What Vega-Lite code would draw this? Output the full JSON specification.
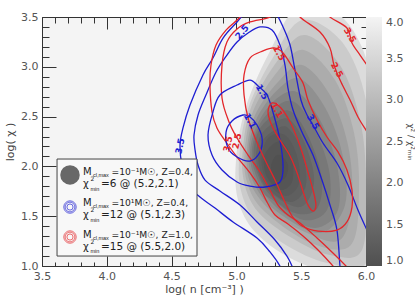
{
"$schema":"https://vega.github.io/schema/vega-lite/v6.json",
"width":324,"height":249,
"autosize":{"type":"none"},
"padding":{"left":42,"top":17,"right":49,"bottom":31},
"background":"#ffffff",
"config":{
 "view":{"fill":"#f4f4f4","stroke":"#333333","strokeWidth":1},
 "font":"DejaVu Sans",
 "axis":{"domain":false,"grid":false,"zindex":1,"tickColor":"#333333","tickWidth":1,"labelFont":"DejaVu Sans","labelFontSize":11,"labelColor":"#555555","titleFont":"DejaVu Sans","titleFontSize":11,"titleFontWeight":"normal","titleColor":"#444444","labelFlush":false}
},
"datasets":{
 "gray":[
  {"id":"g00","v":3.6,"i":0,"x":5.491,"y":3.621},{"id":"g00","v":3.6,"i":1,"x":5.838,"y":3.470},{"id":"g00","v":3.6,"i":2,"x":6.046,"y":2.867},{"id":"g00","v":3.6,"i":3,"x":6.069,"y":1.964},{"id":"g00","v":3.6,"i":4,"x":6.046,"y":0.940},{"id":"g00","v":3.6,"i":5,"x":5.722,"y":0.940},{"id":"g00","v":3.6,"i":6,"x":5.414,"y":1.080},{"id":"g00","v":3.6,"i":7,"x":5.144,"y":1.341},{"id":"g00","v":3.6,"i":8,"x":5.012,"y":1.663},{"id":"g00","v":3.6,"i":9,"x":4.997,"y":2.064},{"id":"g00","v":3.6,"i":10,"x":5.066,"y":2.566},{"id":"g00","v":3.6,"i":11,"x":5.244,"y":3.118},
  {"id":"g01","v":3.3,"i":0,"x":5.510,"y":3.470},{"id":"g01","v":3.3,"i":1,"x":5.819,"y":3.244},{"id":"g01","v":3.3,"i":2,"x":6.000,"y":2.667},{"id":"g01","v":3.3,"i":3,"x":6.035,"y":1.914},{"id":"g01","v":3.3,"i":4,"x":6.008,"y":1.050},{"id":"g01","v":3.3,"i":5,"x":5.722,"y":1.025},{"id":"g01","v":3.3,"i":6,"x":5.421,"y":1.181},{"id":"g01","v":3.3,"i":7,"x":5.155,"y":1.442},{"id":"g01","v":3.3,"i":8,"x":5.036,"y":1.753},{"id":"g01","v":3.3,"i":9,"x":5.024,"y":2.124},{"id":"g01","v":3.3,"i":10,"x":5.093,"y":2.591},{"id":"g01","v":3.3,"i":11,"x":5.282,"y":3.093},
  {"id":"g02","v":3.0,"i":0,"x":5.529,"y":3.319},{"id":"g02","v":3.0,"i":1,"x":5.799,"y":3.018},{"id":"g02","v":3.0,"i":2,"x":5.954,"y":2.466},{"id":"g02","v":3.0,"i":3,"x":6.000,"y":1.863},{"id":"g02","v":3.0,"i":4,"x":5.969,"y":1.161},{"id":"g02","v":3.0,"i":5,"x":5.722,"y":1.110},{"id":"g02","v":3.0,"i":6,"x":5.429,"y":1.281},{"id":"g02","v":3.0,"i":7,"x":5.167,"y":1.542},{"id":"g02","v":3.0,"i":8,"x":5.059,"y":1.843},{"id":"g02","v":3.0,"i":9,"x":5.051,"y":2.185},{"id":"g02","v":3.0,"i":10,"x":5.120,"y":2.616},{"id":"g02","v":3.0,"i":11,"x":5.321,"y":3.068},
  {"id":"g03","v":2.75,"i":0,"x":5.518,"y":3.169},{"id":"g03","v":2.75,"i":1,"x":5.761,"y":2.867},{"id":"g03","v":2.75,"i":2,"x":5.907,"y":2.340},{"id":"g03","v":2.75,"i":3,"x":5.946,"y":1.763},{"id":"g03","v":2.75,"i":4,"x":5.884,"y":1.211},{"id":"g03","v":2.75,"i":5,"x":5.576,"y":1.231},{"id":"g03","v":2.75,"i":6,"x":5.213,"y":1.552},{"id":"g03","v":2.75,"i":7,"x":5.082,"y":1.843},{"id":"g03","v":2.75,"i":8,"x":5.066,"y":2.175},{"id":"g03","v":2.75,"i":9,"x":5.132,"y":2.566},{"id":"g03","v":2.75,"i":10,"x":5.321,"y":2.958},
  {"id":"g04","v":2.5,"i":0,"x":5.506,"y":3.018},{"id":"g04","v":2.5,"i":1,"x":5.722,"y":2.717},{"id":"g04","v":2.5,"i":2,"x":5.861,"y":2.215},{"id":"g04","v":2.5,"i":3,"x":5.892,"y":1.663},{"id":"g04","v":2.5,"i":4,"x":5.799,"y":1.261},{"id":"g04","v":2.5,"i":5,"x":5.529,"y":1.341},{"id":"g04","v":2.5,"i":6,"x":5.259,"y":1.562},{"id":"g04","v":2.5,"i":7,"x":5.105,"y":1.843},{"id":"g04","v":2.5,"i":8,"x":5.082,"y":2.165},{"id":"g04","v":2.5,"i":9,"x":5.144,"y":2.516},{"id":"g04","v":2.5,"i":10,"x":5.321,"y":2.847},
  {"id":"g05","v":2.25,"i":0,"x":5.487,"y":2.883},{"id":"g05","v":2.25,"i":1,"x":5.684,"y":2.591},{"id":"g05","v":2.25,"i":2,"x":5.819,"y":2.114},{"id":"g05","v":2.25,"i":3,"x":5.838,"y":1.612},{"id":"g05","v":2.25,"i":4,"x":5.645,"y":1.331},{"id":"g05","v":2.25,"i":5,"x":5.306,"y":1.552},{"id":"g05","v":2.25,"i":6,"x":5.136,"y":1.828},{"id":"g05","v":2.25,"i":7,"x":5.093,"y":2.140},{"id":"g05","v":2.25,"i":8,"x":5.151,"y":2.466},{"id":"g05","v":2.25,"i":9,"x":5.309,"y":2.757},
  {"id":"g06","v":2.0,"i":0,"x":5.468,"y":2.747},{"id":"g06","v":2.0,"i":1,"x":5.645,"y":2.466},{"id":"g06","v":2.0,"i":2,"x":5.776,"y":2.014},{"id":"g06","v":2.0,"i":3,"x":5.784,"y":1.562},{"id":"g06","v":2.0,"i":4,"x":5.606,"y":1.382},{"id":"g06","v":2.0,"i":5,"x":5.352,"y":1.542},{"id":"g06","v":2.0,"i":6,"x":5.167,"y":1.813},{"id":"g06","v":2.0,"i":7,"x":5.105,"y":2.114},{"id":"g06","v":2.0,"i":8,"x":5.159,"y":2.416},{"id":"g06","v":2.0,"i":9,"x":5.298,"y":2.667},
  {"id":"g07","v":1.8,"i":0,"x":5.448,"y":2.647},{"id":"g07","v":1.8,"i":1,"x":5.606,"y":2.365},{"id":"g07","v":1.8,"i":2,"x":5.718,"y":1.939},{"id":"g07","v":1.8,"i":3,"x":5.699,"y":1.562},{"id":"g07","v":1.8,"i":4,"x":5.518,"y":1.462},{"id":"g07","v":1.8,"i":5,"x":5.290,"y":1.653},{"id":"g07","v":1.8,"i":6,"x":5.198,"y":1.763},{"id":"g07","v":1.8,"i":7,"x":5.120,"y":2.084},{"id":"g07","v":1.8,"i":8,"x":5.163,"y":2.381},{"id":"g07","v":1.8,"i":9,"x":5.294,"y":2.591},
  {"id":"g08","v":1.6,"i":0,"x":5.429,"y":2.546},{"id":"g08","v":1.6,"i":1,"x":5.568,"y":2.265},{"id":"g08","v":1.6,"i":2,"x":5.660,"y":1.863},{"id":"g08","v":1.6,"i":3,"x":5.614,"y":1.562},{"id":"g08","v":1.6,"i":4,"x":5.429,"y":1.542},{"id":"g08","v":1.6,"i":5,"x":5.228,"y":1.763},{"id":"g08","v":1.6,"i":6,"x":5.136,"y":2.064},{"id":"g08","v":1.6,"i":7,"x":5.167,"y":2.345},{"id":"g08","v":1.6,"i":8,"x":5.290,"y":2.516},
  {"id":"g09","v":1.45,"i":0,"x":5.414,"y":2.466},{"id":"g09","v":1.45,"i":1,"x":5.537,"y":2.205},{"id":"g09","v":1.45,"i":2,"x":5.599,"y":1.838},{"id":"g09","v":1.45,"i":3,"x":5.491,"y":1.592},{"id":"g09","v":1.45,"i":4,"x":5.244,"y":1.763},{"id":"g09","v":1.45,"i":5,"x":5.155,"y":2.039},{"id":"g09","v":1.45,"i":6,"x":5.182,"y":2.295},{"id":"g09","v":1.45,"i":7,"x":5.294,"y":2.441},
  {"id":"g10","v":1.3,"i":0,"x":5.398,"y":2.386},{"id":"g10","v":1.3,"i":1,"x":5.506,"y":2.145},{"id":"g10","v":1.3,"i":2,"x":5.537,"y":1.813},{"id":"g10","v":1.3,"i":3,"x":5.429,"y":1.643},{"id":"g10","v":1.3,"i":4,"x":5.259,"y":1.763},{"id":"g10","v":1.3,"i":5,"x":5.174,"y":2.014},{"id":"g10","v":1.3,"i":6,"x":5.198,"y":2.245},{"id":"g10","v":1.3,"i":7,"x":5.298,"y":2.365},
  {"id":"g11","v":1.2,"i":0,"x":5.375,"y":2.315},{"id":"g11","v":1.2,"i":1,"x":5.468,"y":2.104},{"id":"g11","v":1.2,"i":2,"x":5.483,"y":1.828},{"id":"g11","v":1.2,"i":3,"x":5.383,"y":1.703},{"id":"g11","v":1.2,"i":4,"x":5.248,"y":1.828},{"id":"g11","v":1.2,"i":5,"x":5.194,"y":2.049},{"id":"g11","v":1.2,"i":6,"x":5.244,"y":2.285},
  {"id":"g12","v":1.1,"i":0,"x":5.352,"y":2.245},{"id":"g12","v":1.1,"i":1,"x":5.429,"y":2.064},{"id":"g12","v":1.1,"i":2,"x":5.429,"y":1.843},{"id":"g12","v":1.1,"i":3,"x":5.336,"y":1.763},{"id":"g12","v":1.1,"i":4,"x":5.236,"y":1.894},{"id":"g12","v":1.1,"i":5,"x":5.213,"y":2.084},{"id":"g12","v":1.1,"i":6,"x":5.267,"y":2.205},
  {"id":"g13","v":1.02,"i":0,"x":5.336,"y":2.114},{"id":"g13","v":1.02,"i":1,"x":5.398,"y":2.014},{"id":"g13","v":1.02,"i":2,"x":5.375,"y":1.884},{"id":"g13","v":1.02,"i":3,"x":5.298,"y":1.863},{"id":"g13","v":1.02,"i":4,"x":5.267,"y":1.984},{"id":"g13","v":1.02,"i":5,"x":5.290,"y":2.084}
 ],
 "open":[
  {"id":"b35","m":"b","i":0,"x":5.360,"y":0.910},{"id":"b35","m":"b","i":1,"x":5.336,"y":1.000},{"id":"b35","m":"b","i":2,"x":5.259,"y":1.141},{"id":"b35","m":"b","i":3,"x":5.159,"y":1.281},{"id":"b35","m":"b","i":4,"x":4.974,"y":1.442},{"id":"b35","m":"b","i":5,"x":4.835,"y":1.582},{"id":"b35","m":"b","i":6,"x":4.719,"y":1.693},{"id":"b35","m":"b","i":7,"x":4.627,"y":1.813},{"id":"b35","m":"b","i":8,"x":4.580,"y":2.014},{"id":"b35","m":"b","i":9,"x":4.565,"y":2.215},{"id":"b35","m":"b","i":10,"x":4.588,"y":2.386},{"id":"b35","m":"b","i":11,"x":4.642,"y":2.616},{"id":"b35","m":"b","i":12,"x":4.742,"y":2.918},{"id":"b35","m":"b","i":13,"x":4.819,"y":3.088},{"id":"b35","m":"b","i":14,"x":4.897,"y":3.289},{"id":"b35","m":"b","i":15,"x":5.005,"y":3.450},{"id":"b35","m":"b","i":16,"x":5.105,"y":3.590},{"id":"b35","m":"b","i":17,"x":5.221,"y":3.620},{"id":"b35","m":"b","i":18,"x":5.298,"y":3.550},{"id":"b35","m":"b","i":19,"x":5.360,"y":3.400},{"id":"b35","m":"b","i":20,"x":5.414,"y":3.219},{"id":"b35","m":"b","i":21,"x":5.452,"y":2.968},{"id":"b35","m":"b","i":22,"x":5.498,"y":2.667},{"id":"b35","m":"b","i":23,"x":5.545,"y":2.516},{"id":"b35","m":"b","i":24,"x":5.591,"y":2.416},{"id":"b35","m":"b","i":25,"x":5.668,"y":2.235},{"id":"b35","m":"b","i":26,"x":5.776,"y":2.034},{"id":"b35","m":"b","i":27,"x":5.861,"y":1.813},{"id":"b35","m":"b","i":28,"x":5.938,"y":1.562},{"id":"b35","m":"b","i":29,"x":6.000,"y":1.382},{"id":"b35","m":"b","i":30,"x":6.046,"y":1.261},
  {"id":"b25","m":"b","i":0,"x":5.460,"y":0.910},{"id":"b25","m":"b","i":1,"x":5.429,"y":1.000},{"id":"b25","m":"b","i":2,"x":5.390,"y":1.100},{"id":"b25","m":"b","i":3,"x":5.298,"y":1.261},{"id":"b25","m":"b","i":4,"x":5.159,"y":1.442},{"id":"b25","m":"b","i":5,"x":5.028,"y":1.612},{"id":"b25","m":"b","i":6,"x":4.873,"y":1.753},{"id":"b25","m":"b","i":7,"x":4.758,"y":1.863},{"id":"b25","m":"b","i":8,"x":4.704,"y":2.014},{"id":"b25","m":"b","i":9,"x":4.681,"y":2.165},{"id":"b25","m":"b","i":10,"x":4.673,"y":2.315},{"id":"b25","m":"b","i":11,"x":4.704,"y":2.516},{"id":"b25","m":"b","i":12,"x":4.765,"y":2.717},{"id":"b25","m":"b","i":13,"x":4.843,"y":2.948},{"id":"b25","m":"b","i":14,"x":4.927,"y":3.118},{"id":"b25","m":"b","i":15,"x":5.005,"y":3.249},{"id":"b25","m":"b","i":16,"x":5.090,"y":3.339},{"id":"b25","m":"b","i":17,"x":5.182,"y":3.400},{"id":"b25","m":"b","i":18,"x":5.275,"y":3.369},{"id":"b25","m":"b","i":19,"x":5.336,"y":3.219},{"id":"b25","m":"b","i":20,"x":5.375,"y":3.018},{"id":"b25","m":"b","i":21,"x":5.398,"y":2.787},{"id":"b25","m":"b","i":22,"x":5.437,"y":2.566},{"id":"b25","m":"b","i":23,"x":5.506,"y":2.345},{"id":"b25","m":"b","i":24,"x":5.591,"y":2.114},{"id":"b25","m":"b","i":25,"x":5.660,"y":1.863},{"id":"b25","m":"b","i":26,"x":5.722,"y":1.612},{"id":"b25","m":"b","i":27,"x":5.776,"y":1.361},{"id":"b25","m":"b","i":28,"x":5.799,"y":1.000},{"id":"b25","m":"b","i":29,"x":5.807,"y":0.910},
  {"id":"r35","m":"r","i":0,"x":5.051,"y":3.590},{"id":"r35","m":"r","i":1,"x":5.028,"y":3.500},{"id":"r35","m":"r","i":2,"x":4.920,"y":3.369},{"id":"r35","m":"r","i":3,"x":4.843,"y":3.219},{"id":"r35","m":"r","i":4,"x":4.804,"y":3.018},{"id":"r35","m":"r","i":5,"x":4.796,"y":2.817},{"id":"r35","m":"r","i":6,"x":4.812,"y":2.546},{"id":"r35","m":"r","i":7,"x":4.850,"y":2.386},{"id":"r35","m":"r","i":8,"x":4.920,"y":2.245},{"id":"r35","m":"r","i":9,"x":5.005,"y":2.094},{"id":"r35","m":"r","i":10,"x":5.105,"y":1.934},{"id":"r35","m":"r","i":11,"x":5.182,"y":1.783},{"id":"r35","m":"r","i":12,"x":5.236,"y":1.643},{"id":"r35","m":"r","i":13,"x":5.298,"y":1.512},{"id":"r35","m":"r","i":14,"x":5.398,"y":1.422},{"id":"r35","m":"r","i":15,"x":5.514,"y":1.301},{"id":"r35","m":"r","i":16,"x":5.630,"y":1.161},{"id":"r35","m":"r","i":17,"x":5.745,"y":1.000},{"id":"r35","m":"r","i":18,"x":5.799,"y":0.910},
  {"id":"r35b","m":"r","i":0,"x":5.684,"y":3.590},{"id":"r35b","m":"r","i":1,"x":5.722,"y":3.500},{"id":"r35b","m":"r","i":2,"x":5.853,"y":3.390},{"id":"r35b","m":"r","i":3,"x":5.892,"y":3.239},{"id":"r35b","m":"r","i":4,"x":5.954,"y":3.118},{"id":"r35b","m":"r","i":5,"x":6.008,"y":3.018},{"id":"r35b","m":"r","i":6,"x":6.054,"y":2.938},
  {"id":"r25","m":"r","i":0,"x":5.282,"y":3.590},{"id":"r25","m":"r","i":1,"x":5.259,"y":3.500},{"id":"r25","m":"r","i":2,"x":5.105,"y":3.450},{"id":"r25","m":"r","i":3,"x":5.005,"y":3.380},{"id":"r25","m":"r","i":4,"x":4.927,"y":3.249},{"id":"r25","m":"r","i":5,"x":4.889,"y":3.018},{"id":"r25","m":"r","i":6,"x":4.889,"y":2.687},{"id":"r25","m":"r","i":7,"x":4.943,"y":2.446},{"id":"r25","m":"r","i":8,"x":5.005,"y":2.285},{"id":"r25","m":"r","i":9,"x":5.090,"y":2.114},{"id":"r25","m":"r","i":10,"x":5.182,"y":1.944},{"id":"r25","m":"r","i":11,"x":5.259,"y":1.763},{"id":"r25","m":"r","i":12,"x":5.321,"y":1.612},{"id":"r25","m":"r","i":13,"x":5.398,"y":1.512},{"id":"r25","m":"r","i":14,"x":5.491,"y":1.432},{"id":"r25","m":"r","i":15,"x":5.622,"y":1.281},{"id":"r25","m":"r","i":16,"x":5.745,"y":1.131},{"id":"r25","m":"r","i":17,"x":5.853,"y":0.990},{"id":"r25","m":"r","i":18,"x":5.900,"y":0.920},
  {"id":"r25b","m":"r","i":0,"x":5.468,"y":3.590},{"id":"r25b","m":"r","i":1,"x":5.491,"y":3.500},{"id":"r25b","m":"r","i":2,"x":5.645,"y":3.349},{"id":"r25b","m":"r","i":3,"x":5.722,"y":3.189},{"id":"r25b","m":"r","i":4,"x":5.753,"y":3.018},{"id":"r25b","m":"r","i":5,"x":5.807,"y":2.847},{"id":"r25b","m":"r","i":6,"x":5.877,"y":2.667},{"id":"r25b","m":"r","i":7,"x":5.938,"y":2.496},{"id":"r25b","m":"r","i":8,"x":6.000,"y":2.365},{"id":"r25b","m":"r","i":9,"x":6.046,"y":2.285}
 ],
 "closed":[
  {"id":"b15","m":"b","i":0,"x":4.781,"y":2.315},{"id":"b15","m":"b","i":1,"x":4.819,"y":2.546},{"id":"b15","m":"b","i":2,"x":4.873,"y":2.717},{"id":"b15","m":"b","i":3,"x":5.005,"y":2.817},{"id":"b15","m":"b","i":4,"x":5.105,"y":2.867},{"id":"b15","m":"b","i":5,"x":5.167,"y":2.807},{"id":"b15","m":"b","i":6,"x":5.236,"y":2.717},{"id":"b15","m":"b","i":7,"x":5.282,"y":2.546},{"id":"b15","m":"b","i":8,"x":5.336,"y":2.265},{"id":"b15","m":"b","i":9,"x":5.360,"y":1.994},{"id":"b15","m":"b","i":10,"x":5.336,"y":1.843},{"id":"b15","m":"b","i":11,"x":5.221,"y":1.793},{"id":"b15","m":"b","i":12,"x":5.105,"y":1.803},{"id":"b15","m":"b","i":13,"x":5.005,"y":1.843},{"id":"b15","m":"b","i":14,"x":4.889,"y":1.964},{"id":"b15","m":"b","i":15,"x":4.812,"y":2.114},
  {"id":"b11","m":"b","i":0,"x":5.051,"y":2.516},{"id":"b11","m":"b","i":1,"x":4.966,"y":2.456},{"id":"b11","m":"b","i":2,"x":4.920,"y":2.345},{"id":"b11","m":"b","i":3,"x":4.935,"y":2.185},{"id":"b11","m":"b","i":4,"x":5.005,"y":2.094},{"id":"b11","m":"b","i":5,"x":5.105,"y":2.054},{"id":"b11","m":"b","i":6,"x":5.182,"y":2.145},{"id":"b11","m":"b","i":7,"x":5.198,"y":2.285},{"id":"b11","m":"b","i":8,"x":5.159,"y":2.416},{"id":"b11","m":"b","i":9,"x":5.105,"y":2.496},
  {"id":"r15","m":"r","i":0,"x":5.105,"y":3.088},{"id":"r15","m":"r","i":1,"x":5.205,"y":3.159},{"id":"r15","m":"r","i":2,"x":5.290,"y":3.189},{"id":"r15","m":"r","i":3,"x":5.360,"y":3.139},{"id":"r15","m":"r","i":4,"x":5.437,"y":2.988},{"id":"r15","m":"r","i":5,"x":5.514,"y":2.837},{"id":"r15","m":"r","i":6,"x":5.552,"y":2.667},{"id":"r15","m":"r","i":7,"x":5.622,"y":2.466},{"id":"r15","m":"r","i":8,"x":5.699,"y":2.295},{"id":"r15","m":"r","i":9,"x":5.784,"y":2.145},{"id":"r15","m":"r","i":10,"x":5.853,"y":1.964},{"id":"r15","m":"r","i":11,"x":5.892,"y":1.763},{"id":"r15","m":"r","i":12,"x":5.892,"y":1.592},{"id":"r15","m":"r","i":13,"x":5.853,"y":1.442},{"id":"r15","m":"r","i":14,"x":5.776,"y":1.361},{"id":"r15","m":"r","i":15,"x":5.630,"y":1.351},{"id":"r15","m":"r","i":16,"x":5.506,"y":1.402},{"id":"r15","m":"r","i":17,"x":5.429,"y":1.502},{"id":"r15","m":"r","i":18,"x":5.367,"y":1.663},{"id":"r15","m":"r","i":19,"x":5.298,"y":1.863},{"id":"r15","m":"r","i":20,"x":5.221,"y":2.064},{"id":"r15","m":"r","i":21,"x":5.151,"y":2.265},{"id":"r15","m":"r","i":22,"x":5.090,"y":2.486},{"id":"r15","m":"r","i":23,"x":5.059,"y":2.717},{"id":"r15","m":"r","i":24,"x":5.059,"y":2.918},
  {"id":"r11","m":"r","i":0,"x":5.275,"y":2.637},{"id":"r11","m":"r","i":1,"x":5.344,"y":2.586},{"id":"r11","m":"r","i":2,"x":5.414,"y":2.446},{"id":"r11","m":"r","i":3,"x":5.468,"y":2.285},{"id":"r11","m":"r","i":4,"x":5.514,"y":2.114},{"id":"r11","m":"r","i":5,"x":5.552,"y":1.944},{"id":"r11","m":"r","i":6,"x":5.591,"y":1.763},{"id":"r11","m":"r","i":7,"x":5.614,"y":1.612},{"id":"r11","m":"r","i":8,"x":5.591,"y":1.552},{"id":"r11","m":"r","i":9,"x":5.545,"y":1.633},{"id":"r11","m":"r","i":10,"x":5.506,"y":1.783},{"id":"r11","m":"r","i":11,"x":5.460,"y":1.964},{"id":"r11","m":"r","i":12,"x":5.406,"y":2.124},{"id":"r11","m":"r","i":13,"x":5.336,"y":2.265},{"id":"r11","m":"r","i":14,"x":5.275,"y":2.406},{"id":"r11","m":"r","i":15,"x":5.244,"y":2.546}
 ],
 "labA":[
  {"t":"1.5","m":"b","x":5.198,"y":2.747},{"t":"1.1","m":"b","x":5.105,"y":2.456},{"t":"3.5","m":"b","x":5.591,"y":2.446},
  {"t":"1.5","m":"r","x":5.329,"y":3.139},{"t":"1.1","m":"r","x":5.313,"y":2.566},{"t":"2.5","m":"r","x":5.776,"y":2.968},{"t":"3.5","m":"r","x":5.877,"y":3.319}
 ],
 "labB":[{"t":"2.5","m":"b","x":5.043,"y":3.349}],
 "labC":[{"t":"3.5","m":"b","x":4.565,"y":2.205},{"t":"3.5","m":"r","x":4.935,"y":2.225},{"t":"2.5","m":"r","x":5.005,"y":2.255}],
 "box":[{"x":3.616,"x2":4.696,"y":1.100,"y2":2.074}],
 "disc":[{"x":3.716,"y":1.914}],
 "rings":[
  {"m":"b","ring":1,"x":3.716,"y":1.592},{"m":"b","ring":2,"x":3.716,"y":1.592},{"m":"b","ring":3,"x":3.716,"y":1.592},
  {"m":"r","ring":1,"x":3.716,"y":1.291},{"m":"r","ring":2,"x":3.716,"y":1.291},{"m":"r","ring":3,"x":3.716,"y":1.291}
 ],
 "leg":[
  {"lx":3.816,"y1":1.944,"y2":1.823,"t1":"=10⁻¹M☉, Z=0.4,","t2":"=6 @ (5.2,2.1)"},
  {"lx":3.816,"y1":1.633,"y2":1.512,"t1":"=10¹M☉, Z=0.4,","t2":"=12 @ (5.1,2.3)"},
  {"lx":3.816,"y1":1.311,"y2":1.191,"t1":"=10⁻¹M☉, Z=1.0,","t2":"=15 @ (5.5,2.0)"}
 ]
},
"resolve":{"axis":{"x":"independent","y":"independent"}},
"layer":[
 {"data":{"name":"gray"},
  "mark":{"type":"line","filled":true,"interpolate":"cardinal-closed","clip":true,"strokeWidth":0},
  "encoding":{
   "x":{"field":"x","type":"quantitative","scale":{"domain":[3.5,6],"nice":false,"zero":false},
        "axis":{"orient":"bottom","values":[3.5,4,4.5,5,5.5,6],"format":".1f","tickSize":-10,"labelPadding":14,"title":"log( n [cm⁻³] )","titlePadding":2}},
   "y":{"field":"y","type":"quantitative","scale":{"domain":[1,3.5],"nice":false,"zero":false},
        "axis":{"orient":"left","values":[1,1.5,2,2.5,3,3.5],"format":".1f","tickSize":-14,"labelPadding":18,"title":"log( χ )","titlePadding":5}},
   "fill":{"field":"v","type":"quantitative","scale":{"domain":[1,4],"range":["#505050","#f4f4f4"]},
        "legend":{"orient":"none","legendX":324,"legendY":0,"direction":"vertical","gradientLength":249,"gradientThickness":16,"gradientStrokeWidth":0,"values":[1,1.5,2,2.5,3,3.5,4],"format":".1f","labelFont":"DejaVu Sans","labelFontSize":11,"labelColor":"#555555","labelOffset":4,"labelBaseline":"middle","title":"χ² / χ²ₘᵢₙ","titleOrient":"right","titleAngle":270,"titleAnchor":"middle","titleFont":"DejaVu Sans","titleFontSize":9,"titleFontWeight":"normal","titleColor":"#444444","titlePadding":3,"padding":0}},
   "detail":{"field":"id"},
   "order":{"field":"i"}
  }},
 {"data":{"name":"open"},
  "mark":{"type":"line","interpolate":"cardinal","clip":true,"strokeWidth":1.3},
  "encoding":{
   "x":{"field":"x","type":"quantitative","scale":{"domain":[3.5,6],"nice":false,"zero":false},
        "axis":{"orient":"bottom","values":[3.6,3.7,3.8,3.9,4.1,4.2,4.3,4.4,4.6,4.7,4.8,4.9,5.1,5.2,5.3,5.4,5.6,5.7,5.8,5.9],"tickSize":-4,"labels":false,"title":null}},
   "y":{"field":"y","type":"quantitative","scale":{"domain":[1,3.5],"nice":false,"zero":false},
        "axis":{"orient":"left","values":[1.1,1.2,1.3,1.4,1.6,1.7,1.8,1.9,2.1,2.2,2.3,2.4,2.6,2.7,2.8,2.9,3.1,3.2,3.3,3.4],"tickSize":-7,"labels":false,"title":null}},
   "color":{"field":"m","type":"nominal","scale":{"domain":["b","r"],"range":["#1e1ed2","#e3262a"]},"legend":null},
   "detail":{"field":"id"},
   "order":{"field":"i"}
  }},
 {"data":{"name":"closed"},
  "mark":{"type":"line","interpolate":"cardinal-closed","clip":true,"strokeWidth":1.3},
  "encoding":{
   "x":{"field":"x","type":"quantitative","scale":{"domain":[3.5,6],"nice":false,"zero":false},
        "axis":{"orient":"top","values":[3.5,4,4.5,5,5.5,6],"tickSize":-12,"labels":false,"title":null}},
   "y":{"field":"y","type":"quantitative","scale":{"domain":[1,3.5],"nice":false,"zero":false},
        "axis":{"orient":"right","values":[1,1.41667,1.83333,2.25,2.66667,3.08333,3.5],"tickSize":-9,"labels":false,"title":null}},
   "color":{"field":"m","type":"nominal","scale":{"domain":["b","r"],"range":["#1e1ed2","#e3262a"]},"legend":null},
   "detail":{"field":"id"},
   "order":{"field":"i"}
  }},
 {"data":{"name":"labA"},
  "mark":{"type":"text","angle":60,"fontSize":9,"fontWeight":"bold","font":"DejaVu Sans"},
  "encoding":{
   "x":{"field":"x","type":"quantitative","scale":{"domain":[3.5,6],"nice":false,"zero":false},
        "axis":{"orient":"top","values":[3.6,3.7,3.8,3.9,4.1,4.2,4.3,4.4,4.6,4.7,4.8,4.9,5.1,5.2,5.3,5.4,5.6,5.7,5.8,5.9],"tickSize":-6,"labels":false,"title":null}},
   "y":{"field":"y","type":"quantitative","scale":{"domain":[1,3.5],"nice":false,"zero":false},
        "axis":{"orient":"right","values":[1.10417,1.20833,1.3125,1.52083,1.625,1.72917,1.9375,2.04167,2.14583,2.35417,2.45833,2.5625,2.77083,2.875,2.97917,3.1875,3.29167,3.39583],"tickSize":-5,"labels":false,"title":null}},
   "text":{"field":"t"},
   "color":{"field":"m","type":"nominal","scale":{"domain":["b","r"],"range":["#1e1ed2","#e3262a"]},"legend":null}
  }},
 {"data":{"name":"labB"},
  "mark":{"type":"text","angle":-50,"fontSize":9,"fontWeight":"bold","font":"DejaVu Sans"},
  "encoding":{
   "x":{"field":"x","type":"quantitative","scale":{"domain":[3.5,6],"nice":false,"zero":false},"axis":null},
   "y":{"field":"y","type":"quantitative","scale":{"domain":[1,3.5],"nice":false,"zero":false},"axis":null},
   "text":{"field":"t"},
   "color":{"field":"m","type":"nominal","scale":{"domain":["b","r"],"range":["#1e1ed2","#e3262a"]},"legend":null}
  }},
 {"data":{"name":"labC"},
  "mark":{"type":"text","angle":-78,"fontSize":9,"fontWeight":"bold","font":"DejaVu Sans"},
  "encoding":{
   "x":{"field":"x","type":"quantitative","scale":{"domain":[3.5,6],"nice":false,"zero":false},"axis":null},
   "y":{"field":"y","type":"quantitative","scale":{"domain":[1,3.5],"nice":false,"zero":false},"axis":null},
   "text":{"field":"t"},
   "color":{"field":"m","type":"nominal","scale":{"domain":["b","r"],"range":["#1e1ed2","#e3262a"]},"legend":null}
  }},
 {"data":{"name":"box"},
  "mark":{"type":"rect","fill":"#f8f8f8","stroke":"#444444","strokeWidth":1},
  "encoding":{
   "x":{"field":"x","type":"quantitative","scale":{"domain":[3.5,6],"nice":false,"zero":false},"axis":null},
   "x2":{"field":"x2"},
   "y":{"field":"y","type":"quantitative","scale":{"domain":[1,3.5],"nice":false,"zero":false},"axis":null},
   "y2":{"field":"y2"}
  }},
 {"data":{"name":"disc"},
  "mark":{"type":"point","shape":"circle","filled":true,"size":380,"color":"#686868","opacity":1},
  "encoding":{
   "x":{"field":"x","type":"quantitative","scale":{"domain":[3.5,6],"nice":false,"zero":false},"axis":null},
   "y":{"field":"y","type":"quantitative","scale":{"domain":[1,3.5],"nice":false,"zero":false},"axis":null}
  }},
 {"data":{"name":"rings"},
  "mark":{"type":"point","shape":"circle","filled":false,"strokeWidth":0.8,"opacity":0.85},
  "encoding":{
   "x":{"field":"x","type":"quantitative","scale":{"domain":[3.5,6],"nice":false,"zero":false},"axis":null},
   "y":{"field":"y","type":"quantitative","scale":{"domain":[1,3.5],"nice":false,"zero":false},"axis":null},
   "size":{"field":"ring","type":"ordinal","scale":{"domain":[1,2,3],"range":[38,154,380]},"legend":null},
   "color":{"field":"m","type":"nominal","scale":{"domain":["b","r"],"range":["#1e1ed2","#e3262a"]},"legend":null}
  }},
 {"data":{"name":"leg"},
  "mark":{"type":"text","align":"left","baseline":"middle","fontSize":10,"font":"DejaVu Sans","color":"#222222"},
  "encoding":{
   "x":{"field":"lx","type":"quantitative","scale":{"domain":[3.5,6],"nice":false,"zero":false},"axis":null},
   "y":{"field":"y1","type":"quantitative","scale":{"domain":[1,3.5],"nice":false,"zero":false},"axis":null},
   "text":{"value":"M"}
  }},
 {"data":{"name":"leg"},
  "mark":{"type":"text","align":"left","baseline":"middle","fontSize":5.5,"font":"Liberation Sans","color":"#222222","dx":10,"dy":3},
  "encoding":{
   "x":{"field":"lx","type":"quantitative","scale":{"domain":[3.5,6],"nice":false,"zero":false},"axis":null},
   "y":{"field":"y1","type":"quantitative","scale":{"domain":[1,3.5],"nice":false,"zero":false},"axis":null},
   "text":{"value":"cl,max"}
  }},
 {"data":{"name":"leg"},
  "mark":{"type":"text","align":"left","baseline":"middle","fontSize":9.2,"font":"DejaVu Sans","color":"#222222","dx":28.5},
  "encoding":{
   "x":{"field":"lx","type":"quantitative","scale":{"domain":[3.5,6],"nice":false,"zero":false},"axis":null},
   "y":{"field":"y1","type":"quantitative","scale":{"domain":[1,3.5],"nice":false,"zero":false},"axis":null},
   "text":{"field":"t1"}
  }},
 {"data":{"name":"leg"},
  "mark":{"type":"text","align":"left","baseline":"middle","fontSize":10,"font":"DejaVu Sans","color":"#222222"},
  "encoding":{
   "x":{"field":"lx","type":"quantitative","scale":{"domain":[3.5,6],"nice":false,"zero":false},"axis":null},
   "y":{"field":"y2","type":"quantitative","scale":{"domain":[1,3.5],"nice":false,"zero":false},"axis":null},
   "text":{"value":"χ"}
  }},
 {"data":{"name":"leg"},
  "mark":{"type":"text","align":"left","baseline":"middle","fontSize":6,"font":"DejaVu Sans","color":"#222222","dx":7.5,"dy":-5},
  "encoding":{
   "x":{"field":"lx","type":"quantitative","scale":{"domain":[3.5,6],"nice":false,"zero":false},"axis":null},
   "y":{"field":"y2","type":"quantitative","scale":{"domain":[1,3.5],"nice":false,"zero":false},"axis":null},
   "text":{"value":"2"}
  }},
 {"data":{"name":"leg"},
  "mark":{"type":"text","align":"left","baseline":"middle","fontSize":5.5,"font":"Liberation Sans","color":"#222222","dx":7.5,"dy":4.5},
  "encoding":{
   "x":{"field":"lx","type":"quantitative","scale":{"domain":[3.5,6],"nice":false,"zero":false},"axis":null},
   "y":{"field":"y2","type":"quantitative","scale":{"domain":[1,3.5],"nice":false,"zero":false},"axis":null},
   "text":{"value":"min"}
  }},
 {"data":{"name":"leg"},
  "mark":{"type":"text","align":"left","baseline":"middle","fontSize":10.5,"font":"DejaVu Sans","color":"#222222","dx":18},
  "encoding":{
   "x":{"field":"lx","type":"quantitative","scale":{"domain":[3.5,6],"nice":false,"zero":false},"axis":null},
   "y":{"field":"y2","type":"quantitative","scale":{"domain":[1,3.5],"nice":false,"zero":false},"axis":null},
   "text":{"field":"t2"}
  }}
]
}
